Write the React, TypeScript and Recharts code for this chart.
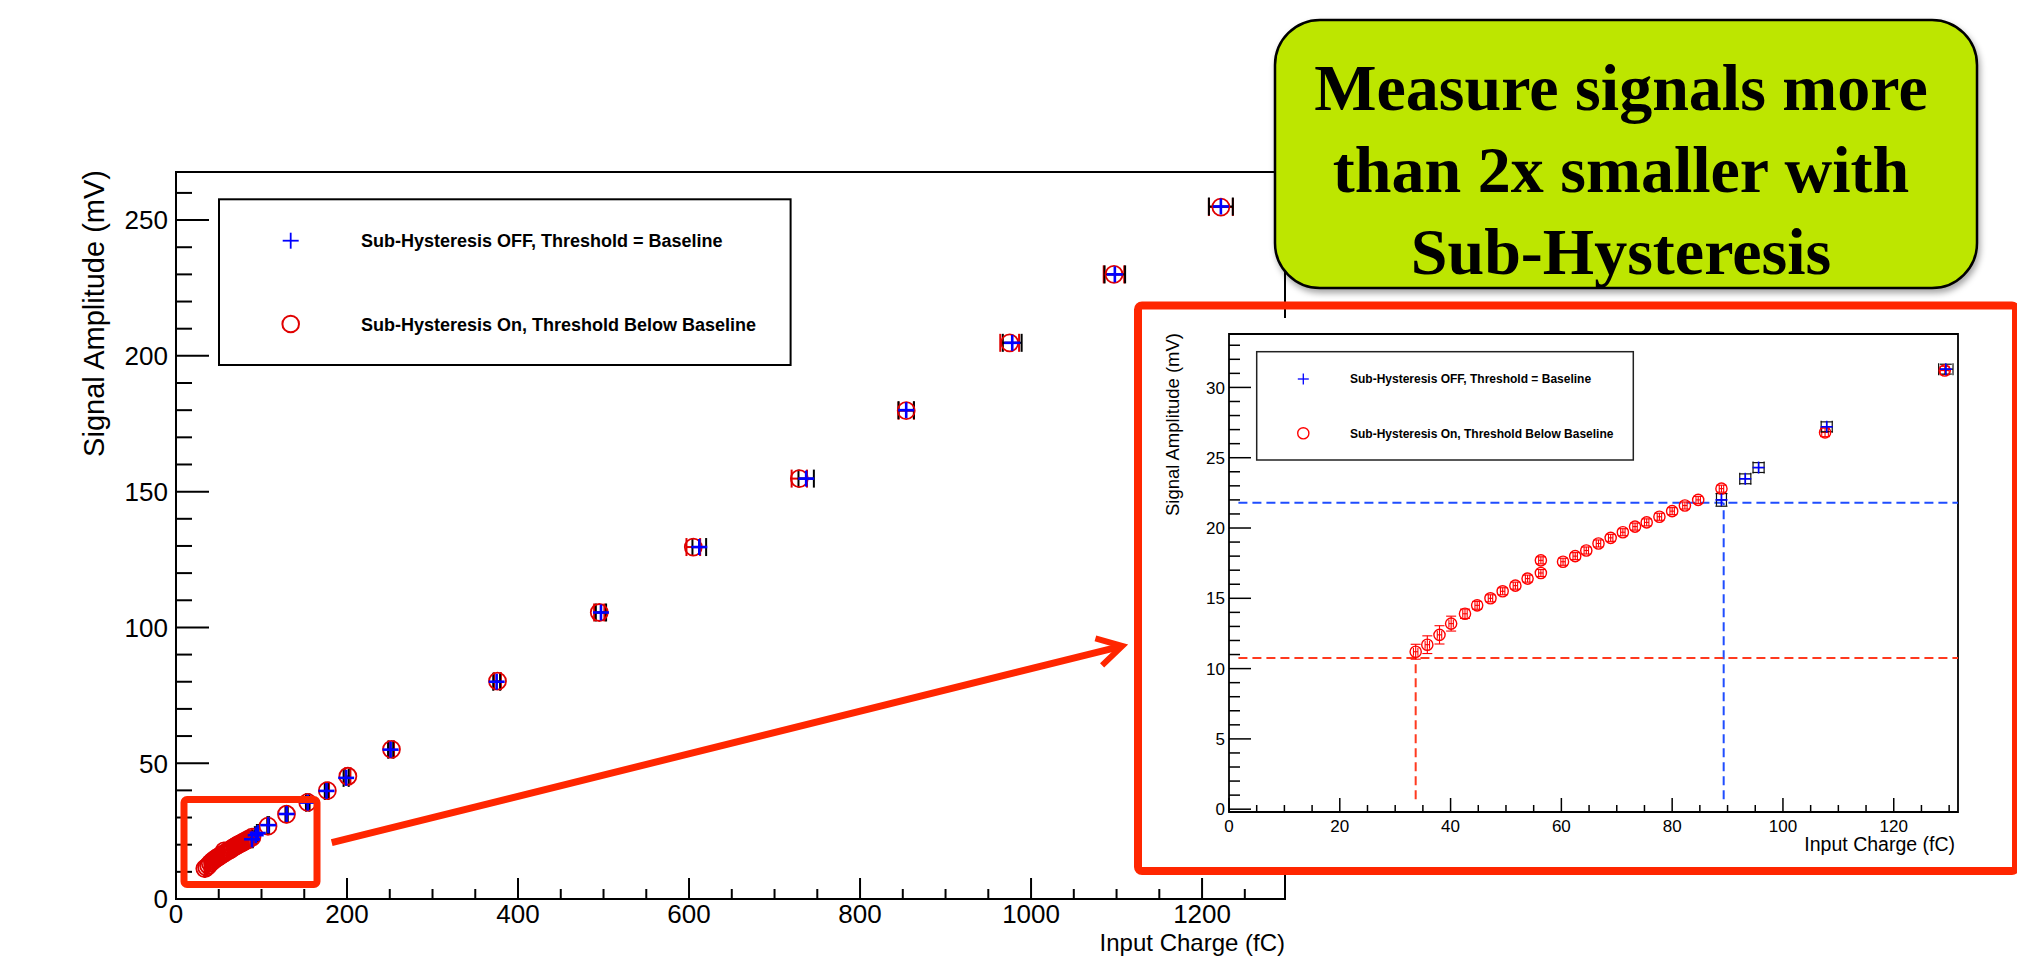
import React from 'react';
import { ScatterChart, Scatter, XAxis, YAxis, ErrorBar, ReferenceArea, ReferenceLine } from 'recharts';

// Sub-Hysteresis On, threshold below baseline (red circles)
const chargeOn = [33.7, 35.8, 38.0, 40.1, 42.6, 44.8, 47.2, 49.4, 51.7, 53.9, 56.3, 56.3, 60.3, 62.5, 64.5, 66.7, 68.9, 71.1, 73.3, 75.4, 77.7, 80.0, 82.3, 84.7, 88.9, 107.6, 129.2, 154, 177, 201, 252, 376, 495, 605, 729, 854, 975, 1097, 1222];
const ampOn = [11.2, 11.7, 12.4, 13.2, 13.9, 14.5, 15.0, 15.5, 15.9, 16.4, 16.8, 17.7, 17.6, 18.0, 18.4, 18.9, 19.3, 19.7, 20.1, 20.4, 20.8, 21.2, 21.6, 22.0, 22.8, 26.8, 31.2, 35.6, 39.9, 45.2, 55.1, 80.2, 105.5, 129.6, 154.8, 179.8, 204.8, 230.0, 254.8];
const chargeErrOn = [0.4, 0.4, 0.4, 0.4, 0.4, 0.4, 0.4, 0.4, 0.4, 0.4, 0.4, 0.4, 0.4, 0.4, 0.4, 0.4, 0.4, 0.4, 0.4, 0.4, 0.4, 0.4, 0.4, 0.4, 0.4, 0.6, 0.8, 2, 2, 3, 3, 4, 6, 8, 9, 9, 11, 12, 14];
const ampErrOn = [0.53, 0.63, 0.65, 0.53, 0.33, 0.28, 0.25, 0.25, 0.25, 0.25, 0.25, 0.25, 0.25, 0.25, 0.25, 0.25, 0.25, 0.25, 0.25, 0.25, 0.25, 0.25, 0.25, 0.25, 0.25, 0.3, 0.3, 0.4, 0.4, 0.4, 0.4, 0.4, 0.4, 0.4, 0.4, 0.4, 0.4, 0.4, 0.4];

// Sub-Hysteresis OFF, threshold = baseline (blue crosses)
const chargeOff = [88.9, 93.2, 95.6, 107.9, 129.4, 154, 176, 199, 251, 375, 497, 612, 737, 854, 978, 1098, 1222];
const ampOff = [22.0, 23.5, 24.3, 27.2, 31.3, 35.5, 39.8, 44.6, 55.0, 80.0, 105.5, 129.6, 154.8, 180.0, 204.8, 230.0, 255.0];
const chargeErrOff = [0.9, 1.0, 1.0, 1.0, 1.3, 2, 2, 3, 3, 4, 6, 8, 9, 9, 11, 12, 14];
const ampErrOff = [0.45, 0.35, 0.35, 0.35, 0.35, 0.4, 0.4, 0.4, 0.4, 0.4, 0.4, 0.4, 0.4, 0.4, 0.4, 0.4, 0.4];

// dashed threshold markers in the zoomed view: [On, OFF]
const thresholdCharge = [33.7, 89.3];
const thresholdAmp = [10.75, 21.8];

const legendLabels = ['Sub-Hysteresis OFF, Threshold = Baseline', 'Sub-Hysteresis On, Threshold Below Baseline'];
const calloutLines = ['Measure signals more', 'than 2x smaller with', 'Sub-Hysteresis'];

const FONT = '"Liberation Sans", Arial, Helvetica, sans-serif';
const SERIF = '"Liberation Serif", "Times New Roman", serif';
const RED = '#e00000';
const BLUE = '#0000ff';
const BOX_RED = '#ff2600';

const range = (a: number, b: number, step: number) => {
  const out: number[] = [];
  for (let v = a; v <= b + 1e-9; v += step) out.push(v);
  return out;
};

const onData = chargeOn.map((x, i) => ({ x, y: ampOn[i], ex: chargeErrOn[i], ey: ampErrOn[i] }));
const offData = chargeOff.map((x, i) => ({ x, y: ampOff[i], ex: chargeErrOff[i], ey: ampErrOff[i] }));
const insetOn = onData.filter(d => d.x < 131);
const insetOff = offData.filter(d => d.x < 131);

const MAIN_X = [0, 1297];
const MAIN_Y = [0, 267.7];
const INSET_X = [0, 131.6];
const INSET_Y = [-0.2, 33.8];

// ROOT style ticks: drawn inward, long for majors, labels on majors only
const makeYTick = (majorStep: number, majorLen: number, minorLen: number, fs: number, gap: number, sw: number) => (props: any) => {
  const { x, y, payload } = props;
  const major = Math.abs(payload.value % majorStep) < 1e-6;
  return (
    <g>
      <line x1={x} x2={x + (major ? majorLen : minorLen)} y1={y} y2={y} stroke="#000" strokeWidth={sw} />
      {major && (
        <text x={x - gap} y={y + fs * 0.36} textAnchor="end" fontSize={fs} fontFamily={FONT} fill="#000">{payload.value}</text>
      )}
    </g>
  );
};

const makeXTick = (majorStep: number, majorLen: number, minorLen: number, fs: number, base: number, sw: number) => (props: any) => {
  const { x, y, payload } = props;
  const major = Math.abs(payload.value % majorStep) < 1e-6;
  return (
    <g>
      <line x1={x} x2={x} y1={y} y2={y - (major ? majorLen : minorLen)} stroke="#000" strokeWidth={sw} />
      {major && (
        <text x={x} y={y + base} textAnchor="middle" fontSize={fs} fontFamily={FONT} fill="#000">{payload.value}</text>
      )}
    </g>
  );
};

const circleShape = (r: number, color: string, w: number) => (p: any) => (
  <circle cx={p.cx} cy={p.cy} r={r} fill="none" stroke={color} strokeWidth={w} />
);

const plusShape = (h: number, color: string, w: number) => (p: any) => (
  <g>
    <line x1={p.cx - h} x2={p.cx + h} y1={p.cy} y2={p.cy} stroke={color} strokeWidth={w} />
    <line x1={p.cx} x2={p.cx} y1={p.cy - h} y2={p.cy + h} stroke={color} strokeWidth={w} />
  </g>
);

function MainChart() {
  return (
    <ScatterChart width={1300} height={956} margin={{ top: 172, right: 15, bottom: 0, left: 0 }}>
      <XAxis type="number" dataKey="x" domain={MAIN_X} allowDataOverflow ticks={range(0, 1250, 50)} interval={0}
        tick={makeXTick(200, 21, 10, 26, 24, 2)} tickLine={false} axisLine={false} tickSize={0} tickMargin={0} height={57} />
      <YAxis type="number" dataKey="y" domain={MAIN_Y} allowDataOverflow ticks={range(0, 260, 10)} interval={0}
        tick={makeYTick(50, 33, 16, 26, 8, 2)} tickLine={false} axisLine={false} tickSize={0} tickMargin={0} width={176} />
      <ReferenceArea x1={MAIN_X[0]} x2={MAIN_X[1]} y1={MAIN_Y[0]} y2={MAIN_Y[1]} fill="none" fillOpacity={0} stroke="#000" strokeWidth={2} />
      <Scatter data={onData} shape={circleShape(8.5, RED, 1.8)} isAnimationActive={false}>
        <ErrorBar dataKey="ex" direction="x" width={9} stroke={RED} strokeWidth={2} isAnimationActive={false} />
      </Scatter>
      <Scatter data={offData} shape={plusShape(8, BLUE, 2.6)} isAnimationActive={false}>
        <ErrorBar dataKey="ex" direction="x" width={9} stroke="#000" strokeWidth={2} isAnimationActive={false} />
      </Scatter>
    </ScatterChart>
  );
}

function InsetChart() {
  return (
    <ScatterChart width={868} height={552} margin={{ top: 16, right: 52, bottom: 0, left: 0 }}>
      <XAxis type="number" dataKey="x" domain={INSET_X} allowDataOverflow ticks={range(0, 130, 5)} interval={0}
        tick={makeXTick(20, 14, 7, 17, 20, 1.5)} tickLine={false} axisLine={false} tickSize={0} tickMargin={0} height={58} />
      <YAxis type="number" dataKey="y" domain={INSET_Y} allowDataOverflow ticks={range(0, 33, 1)} interval={0}
        tick={makeYTick(5, 22, 11, 17, 4, 1.5)} tickLine={false} axisLine={false} tickSize={0} tickMargin={0} width={87} />
      <ReferenceArea x1={INSET_X[0]} x2={INSET_X[1]} y1={INSET_Y[0]} y2={INSET_Y[1]} fill="none" fillOpacity={0} stroke="#000" strokeWidth={1.8} />
      <ReferenceLine segment={[{ x: 1.7, y: thresholdAmp[1] }, { x: INSET_X[1], y: thresholdAmp[1] }]} stroke="#1f4dff" strokeWidth={2} strokeDasharray="9 5" />
      <ReferenceLine segment={[{ x: thresholdCharge[1], y: 0.7 }, { x: thresholdCharge[1], y: thresholdAmp[1] }]} stroke="#1f4dff" strokeWidth={2} strokeDasharray="9 5" />
      <ReferenceLine segment={[{ x: 1.7, y: thresholdAmp[0] }, { x: INSET_X[1], y: thresholdAmp[0] }]} stroke="#ff3a1f" strokeWidth={2} strokeDasharray="9 5" />
      <ReferenceLine segment={[{ x: thresholdCharge[0], y: 0.7 }, { x: thresholdCharge[0], y: thresholdAmp[0] }]} stroke="#ff3a1f" strokeWidth={2} strokeDasharray="9 5" />
      <Scatter data={insetOn} shape={circleShape(5.6, '#ff0000', 1.4)} isAnimationActive={false}>
        <ErrorBar dataKey="ex" direction="x" width={4} stroke="#ff0000" strokeWidth={1.1} isAnimationActive={false} />
        <ErrorBar dataKey="ey" direction="y" width={5} stroke="#ff0000" strokeWidth={1.1} isAnimationActive={false} />
      </Scatter>
      <Scatter data={insetOff} shape={plusShape(6, BLUE, 1.6)} isAnimationActive={false}>
        <ErrorBar dataKey="ex" direction="x" width={6} stroke="#111" strokeWidth={1.2} isAnimationActive={false} />
        <ErrorBar dataKey="ey" direction="y" width={6} stroke="#111" strokeWidth={1.2} isAnimationActive={false} />
      </Scatter>
    </ScatterChart>
  );
}

export default function App() {
  const abs = { position: 'absolute' as const, left: 0, top: 0 };
  return (
    <div style={{ position: 'absolute', left: 0, top: 0, width: 2017, height: 956, overflow: 'hidden', background: '#fff' }}>
      <div style={abs}>
        <MainChart />
      </div>

      {/* main titles and legend */}
      <svg style={abs} width={2017} height={956}>
        <text x={104} y={170} transform="rotate(-90 104 170)" textAnchor="end" fontSize={29} fontFamily={FONT} fill="#000">Signal Amplitude (mV)</text>
        <text x={1285} y={950.5} textAnchor="end" fontSize={24} fontFamily={FONT} fill="#000">Input Charge (fC)</text>
        <rect x={219} y={199.3} width={571.6} height={165.7} fill="#fff" stroke="#000" strokeWidth={2} />
        {plusShape(8, BLUE, 1.8)({ cx: 290.7, cy: 240.7 })}
        <circle cx={290.7} cy={324} r={8.3} fill="none" stroke={RED} strokeWidth={2} />
        <text x={361} y={247} fontSize={18} fontWeight="bold" fontFamily={FONT} fill="#000">{legendLabels[0]}</text>
        <text x={361} y={330.5} fontSize={18} fontWeight="bold" fontFamily={FONT} fill="#000">{legendLabels[1]}</text>
      </svg>

      {/* zoomed view */}
      <div style={{ position: 'absolute', left: 1142, top: 318, width: 868, height: 552, background: '#fff' }}>
        <InsetChart />
      </div>

      <svg style={abs} width={2017} height={956}>
        <defs>
          <filter id="shadow" x="-10%" y="-10%" width="130%" height="140%">
            <feDropShadow dx="2" dy="4" stdDeviation="3" floodColor="#000" floodOpacity="0.35" />
          </filter>
        </defs>
        <text x={1179.4} y={333} transform="rotate(-90 1179.4 333)" textAnchor="end" fontSize={18.5} fontFamily={FONT} fill="#000">Signal Amplitude (mV)</text>
        <text x={1955} y={850.7} textAnchor="end" fontSize={19.5} fontFamily={FONT} fill="#000">Input Charge (fC)</text>
        <rect x={1256.7} y={351.7} width={376.6} height={108.3} fill="#fff" stroke="#222" strokeWidth={1.5} />
        {plusShape(5.5, BLUE, 1.3)({ cx: 1303.3, cy: 379 })}
        <circle cx={1303.3} cy={433.3} r={5.6} fill="none" stroke="#ff0000" strokeWidth={1.4} />
        <text x={1350} y={383.3} fontSize={12} fontWeight="bold" fontFamily={FONT} fill="#000">{legendLabels[0]}</text>
        <text x={1350} y={437.6} fontSize={12} fontWeight="bold" fontFamily={FONT} fill="#000">{legendLabels[1]}</text>

        {/* highlight boxes and arrow */}
        <rect x={1138} y={305.5} width={878} height={565.5} rx={4} fill="none" stroke={BOX_RED} strokeWidth={8} />
        <rect x={184} y={799.5} width={133} height={85} rx={3} fill="none" stroke={BOX_RED} strokeWidth={7} />
        <line x1={331.7} y1={842.7} x2={1119} y2={646.8} stroke={BOX_RED} strokeWidth={7} />
        <polyline points="1095.4,638.3 1122.3,646 1102.1,665.4" fill="none" stroke={BOX_RED} strokeWidth={6} strokeLinejoin="miter" />

        {/* callout */}
        <rect x={1275} y={20} width={702} height={268} rx={45} fill="#bde600" stroke="#000" strokeWidth={2.5} filter="url(#shadow)" />
        {calloutLines.map((t, i) => (
          <text key={t} x={1621} y={110 + i * 82} textAnchor="middle" fontSize={66} fontWeight="bold" fontFamily={SERIF} fill="#000">{t}</text>
        ))}
      </svg>
    </div>
  );
}
